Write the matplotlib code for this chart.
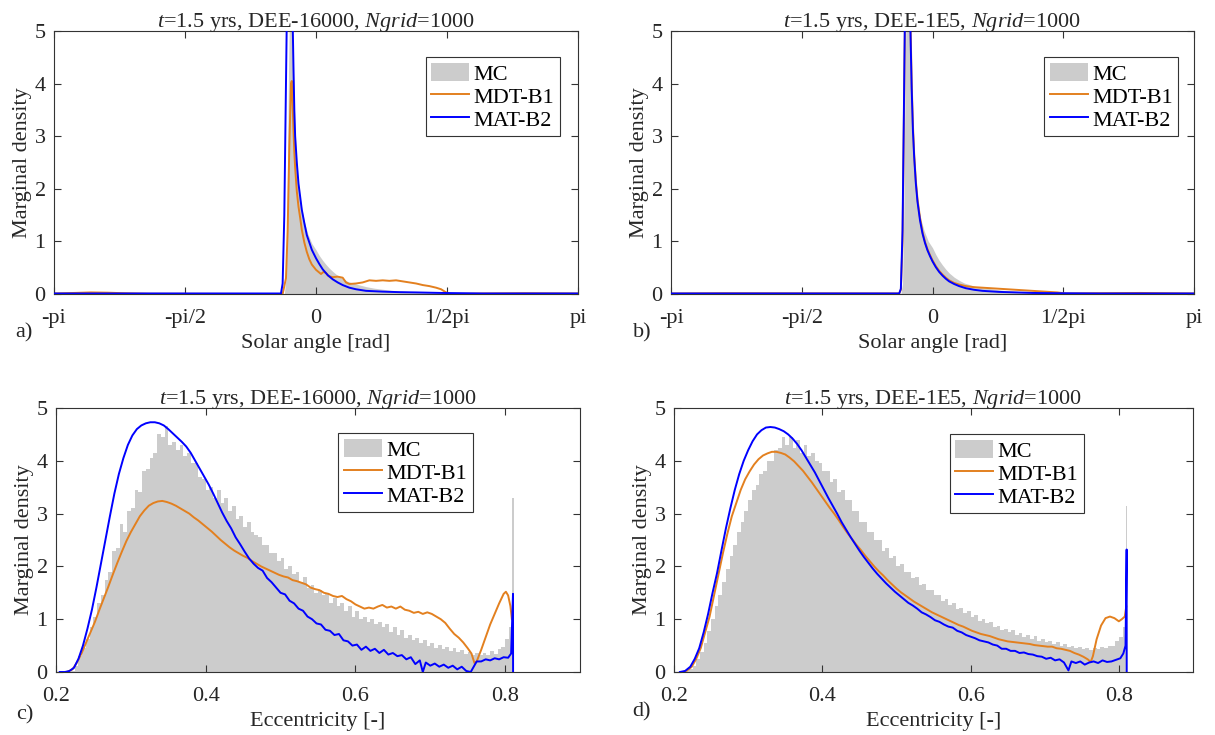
import numpy as np
import matplotlib
matplotlib.use("Agg")
import matplotlib.pyplot as plt
from matplotlib.patches import Patch
from matplotlib.lines import Line2D

plt.rcParams['font.family'] = ['Liberation Serif', 'DejaVu Serif']
plt.rcParams['mathtext.fontset'] = 'custom'
plt.rcParams['mathtext.rm'] = 'Liberation Serif'
plt.rcParams['mathtext.it'] = 'Liberation Serif:italic'

# ---------------- data: solar angle panels ----------------
angle_ticks = [-np.pi, -np.pi / 2, 0, np.pi / 2, np.pi]
angle_ticklabels = ['-pi', '-pi/2', '0', '1/2pi', 'pi']

# panel a (DEE-16000)
a_mc_x = [-0.38, -0.36, -0.345, -0.33, -0.315, -0.30, -0.285, -0.27, -0.255, -0.24, -0.22, -0.20, -0.17,
          -0.14, -0.10, -0.05, 0.0, 0.04, 0.08, 0.12, 0.16, 0.20, 0.26, 0.32, 0.38, 0.44, 0.50, 0.60,
          0.70, 0.80, 0.90, 1.0, 1.1, 1.2, 1.3, 1.4, 1.5, 1.6, 1.7]
a_mc_y = [0, 0.3, 1.8, 4.2, 5.6, 5.8, 5.2, 4.2, 3.3, 2.7, 2.25, 1.95, 1.62, 1.38, 1.15, 0.96, 0.84, 0.73,
          0.64, 0.56, 0.49, 0.43, 0.35, 0.29, 0.24, 0.21, 0.18, 0.14, 0.11, 0.09, 0.07, 0.06, 0.05,
          0.04, 0.035, 0.03, 0.02, 0.01, 0.0]
a_mdt_x = [-np.pi, -2.9, -2.7, -2.5, -2.3, -2.0, -0.5, -0.40, -0.36, -0.34, -0.32, -0.30, -0.29, -0.28,
           -0.27, -0.26, -0.25, -0.23, -0.21, -0.19, -0.17, -0.14, -0.11, -0.08, -0.05, 0.0, 0.03, 0.06,
           0.09, 0.12, 0.15, 0.2, 0.26, 0.32, 0.36, 0.4, 0.48, 0.56, 0.64, 0.72, 0.8, 0.88, 0.96, 1.04,
           1.12, 1.2, 1.28, 1.36, 1.44, 1.5, 1.55, 1.6, 2.0, 2.5, np.pi]
a_mdt_y = [0.01, 0.02, 0.03, 0.025, 0.015, 0.005, 0.0, 0.0, 0.3, 1.2, 2.8, 4.0, 4.05, 3.6, 3.1, 2.7,
           2.4, 1.95, 1.66, 1.45, 1.22, 0.98, 0.8, 0.66, 0.56, 0.46, 0.42, 0.38, 0.42, 0.40, 0.34,
           0.32, 0.33, 0.31, 0.22, 0.19, 0.2, 0.22, 0.26, 0.25, 0.26, 0.25, 0.26, 0.24, 0.22, 0.2,
           0.17, 0.15, 0.12, 0.09, 0.04, 0.0, 0.01, 0.015, 0.01]
a_mat_x = [-np.pi, -0.42, -0.40, -0.38, -0.36, -0.34, -0.32, -0.30, -0.28, -0.27, -0.26, -0.25, -0.23,
           -0.21, -0.19, -0.17, -0.14, -0.11, -0.08, -0.05, 0.0, 0.04, 0.08, 0.14, 0.2, 0.26, 0.32,
           0.4, 0.48, 0.6, 0.8, 1.0, 1.2, 1.5, 2.0, np.pi]
a_mat_y = [0.01, 0.01, 0.2, 1.5, 4.0, 6.5, 8.0, 7.5, 5.2, 4.3, 3.5, 3.0, 2.5, 2.1, 1.85, 1.6, 1.35,
           1.12, 0.98, 0.84, 0.68, 0.57, 0.47, 0.36, 0.28, 0.22, 0.17, 0.12, 0.09, 0.06, 0.045,
           0.035, 0.03, 0.02, 0.01, 0.01]

# panel b (DEE-1E5)
b_mc_x = [-0.38, -0.36, -0.345, -0.33, -0.315, -0.30, -0.285, -0.27, -0.255, -0.24, -0.22, -0.20, -0.17,
          -0.14, -0.10, -0.05, 0.0, 0.04, 0.08, 0.12, 0.16, 0.20, 0.26, 0.32, 0.38, 0.44, 0.50, 0.60,
          0.70, 0.80, 0.90, 1.0, 1.1, 1.2, 1.3, 1.4, 1.5, 1.6, 1.7]
b_mc_y = [0, 0.2, 1.5, 4.0, 5.6, 5.8, 5.3, 4.3, 3.4, 2.8, 2.3, 1.98, 1.65, 1.42, 1.2, 1.0, 0.88, 0.75,
          0.64, 0.55, 0.47, 0.4, 0.32, 0.26, 0.21, 0.18, 0.15, 0.12, 0.1, 0.08, 0.06, 0.05, 0.04,
          0.035, 0.03, 0.025, 0.02, 0.01, 0.0]
b_mdt_x = [-np.pi, -2.5, -0.40, -0.38, -0.36, -0.34, -0.32, -0.30, -0.28, -0.265, -0.25, -0.235, -0.22,
           -0.20, -0.18, -0.15, -0.12, -0.09, -0.06, -0.03, 0.0, 0.04, 0.08, 0.12, 0.16, 0.2, 0.26,
           0.32, 0.4, 0.5, 0.6, 0.7, 0.8, 0.9, 1.0, 1.1, 1.2, 1.3, 1.4, 1.5, 1.6, 2.0, 2.5, np.pi]
b_mdt_y = [0.01, 0.015, 0.01, 0.08, 1.0, 3.8, 6.8, 8.3, 7.2, 5.2, 4.0, 3.2, 2.65, 2.15, 1.8, 1.45,
           1.18, 0.99, 0.85, 0.74, 0.64, 0.53, 0.44, 0.37, 0.31, 0.26, 0.21, 0.18, 0.15, 0.13, 0.12,
           0.11, 0.1, 0.09, 0.08, 0.07, 0.06, 0.05, 0.04, 0.03, 0.01, 0.015, 0.02, 0.01]
b_mat_x = [-np.pi, -0.40, -0.38, -0.36, -0.34, -0.32, -0.30, -0.28, -0.265, -0.25, -0.235, -0.22, -0.20,
           -0.18, -0.15, -0.12, -0.09, -0.06, -0.03, 0.0, 0.04, 0.08, 0.12, 0.16, 0.2, 0.26, 0.32,
           0.4, 0.5, 0.6, 0.8, 1.0, 1.2, 1.5, 2.0, np.pi]
b_mat_y = [0.01, 0.01, 0.1, 1.2, 4.0, 7.0, 8.5, 7.0, 5.0, 3.9, 3.1, 2.6, 2.1, 1.75, 1.4, 1.15, 0.97,
           0.83, 0.72, 0.62, 0.51, 0.42, 0.35, 0.29, 0.24, 0.19, 0.15, 0.11, 0.08, 0.06, 0.04, 0.03,
           0.02, 0.015, 0.01, 0.01]

# ---------------- data: eccentricity panels ----------------
ecc_ticks = [0.2, 0.4, 0.6, 0.8]
ecc_ticklabels = ['0.2', '0.4', '0.6', '0.8']
mc_bin_start = 0.2
mc_bin_width = 0.005

# panel c (DEE-16000), MC histogram heights, bins from 0.200 in steps of 0.005
c_mc = [0, 0, 0, 0, 0.02, 0.12, 0.3, 0.45, 0.62, 0.85,
        1.05, 1.3, 1.45, 1.75, 1.9, 2.3, 2.35, 2.8, 2.65, 3.05,
        3.1, 3.45, 3.4, 3.8, 3.85, 4.05, 4.15, 4.5, 4.45, 4.65,
        4.3, 4.35, 4.2, 4.3, 4.1, 4.15, 3.95, 3.95, 3.7, 3.65,
        3.45, 3.5, 3.3, 3.45, 3.2, 3.3, 3.05, 3.15, 2.9, 2.95,
        2.75, 2.85, 2.65, 2.6, 2.55, 2.4, 2.4, 2.25, 2.25, 2.1,
        2.15, 1.95, 2.0, 1.85, 1.9, 1.7, 1.8, 1.6, 1.65, 1.5,
        1.55, 1.45, 1.5, 1.3, 1.4, 1.25, 1.3, 1.15, 1.25, 1.05,
        1.15, 1.0, 1.05, 0.95, 1.0, 0.9, 0.95, 0.85, 0.9, 0.75,
        0.85, 0.7, 0.8, 0.65, 0.7, 0.6, 0.65, 0.55, 0.6, 0.5,
        0.55, 0.45, 0.52, 0.43, 0.48, 0.4, 0.45, 0.37, 0.42, 0.35,
        0.38, 0.33, 0.36, 0.32, 0.36, 0.33, 0.39, 0.35, 0.44, 0.48,
        0.62, 0.85]
c_mc_spike_x = 0.8105
c_mc_spike_y = 3.3

c_mat_x = [0.205, 0.212, 0.218, 0.224, 0.230, 0.236, 0.242, 0.248, 0.254, 0.260, 0.266, 0.272, 0.278,
           0.284, 0.290, 0.296, 0.302, 0.308, 0.314, 0.320, 0.326, 0.332, 0.338, 0.344, 0.350, 0.356,
           0.362, 0.368, 0.374, 0.380, 0.386, 0.392, 0.398, 0.404, 0.410, 0.416, 0.422, 0.428, 0.434,
           0.440, 0.446, 0.452, 0.458, 0.464, 0.470, 0.476, 0.482, 0.488, 0.494, 0.500, 0.506, 0.512,
           0.518, 0.524, 0.530, 0.536, 0.542, 0.548, 0.554, 0.560, 0.566, 0.572, 0.578, 0.584, 0.590,
           0.596, 0.602, 0.608, 0.614, 0.620, 0.626, 0.632, 0.638, 0.644, 0.650, 0.656, 0.662, 0.668,
           0.674, 0.680, 0.686, 0.690, 0.694, 0.700, 0.706, 0.712, 0.718, 0.724, 0.730, 0.736, 0.742,
           0.748, 0.754, 0.758, 0.762, 0.768, 0.774, 0.780, 0.786, 0.792, 0.798, 0.804, 0.808, 0.8105,
           0.8106]
c_mat_y = [0.0, 0.0, 0.02, 0.08, 0.25, 0.5, 0.82, 1.18, 1.6, 2.05, 2.5, 2.95, 3.38, 3.75, 4.05, 4.3,
           4.48, 4.6, 4.67, 4.71, 4.73, 4.73, 4.71, 4.67, 4.6, 4.52, 4.44, 4.36, 4.27, 4.15, 4.0, 3.85,
           3.7, 3.55, 3.38, 3.2, 3.02, 2.86, 2.72, 2.55, 2.42, 2.28, 2.15, 2.05, 1.97, 1.92, 1.78, 1.7,
           1.6, 1.5, 1.47, 1.35, 1.3, 1.2, 1.16, 1.05, 1.0, 0.92, 0.9, 0.8, 0.78, 0.7, 0.72, 0.6, 0.58,
           0.5, 0.52, 0.42, 0.48, 0.4, 0.44, 0.36, 0.42, 0.33, 0.36, 0.3, 0.32, 0.24, 0.28, 0.15, 0.22,
           0.0, 0.18, 0.12, 0.16, 0.1, 0.14, 0.08, 0.12, 0.05, 0.1, 0.02, 0.0, 0.1, 0.2, 0.2, 0.24,
           0.22, 0.26, 0.24, 0.28, 0.27, 0.35, 1.48, 0.0]

c_mdt_x = [0.215, 0.222, 0.228, 0.234, 0.240, 0.246, 0.252, 0.258, 0.264, 0.270, 0.276, 0.282, 0.288,
           0.294, 0.300, 0.306, 0.312, 0.318, 0.324, 0.330, 0.336, 0.342, 0.348, 0.354, 0.360, 0.366,
           0.372, 0.378, 0.384, 0.390, 0.396, 0.402, 0.408, 0.414, 0.420, 0.426, 0.432, 0.438, 0.444,
           0.450, 0.456, 0.462, 0.468, 0.474, 0.480, 0.486, 0.492, 0.498, 0.504, 0.510, 0.516, 0.522,
           0.528, 0.534, 0.540, 0.546, 0.552, 0.558, 0.564, 0.570, 0.576, 0.582, 0.588, 0.594, 0.600,
           0.606, 0.612, 0.618, 0.624, 0.630, 0.636, 0.642, 0.648, 0.654, 0.660, 0.666, 0.672, 0.678,
           0.684, 0.690, 0.696, 0.702, 0.708, 0.714, 0.720, 0.726, 0.732, 0.738, 0.744, 0.750, 0.755,
           0.759, 0.762, 0.768, 0.774, 0.780, 0.786, 0.792, 0.798, 0.801, 0.804, 0.807, 0.809]
c_mdt_y = [0.0, 0.05, 0.18, 0.35, 0.55, 0.75, 0.95, 1.18, 1.4, 1.62, 1.85, 2.07, 2.28, 2.48, 2.65, 2.8,
           2.95, 3.06, 3.15, 3.2, 3.23, 3.24, 3.22, 3.19, 3.15, 3.1, 3.05, 3.0, 2.93, 2.87, 2.8, 2.73,
           2.66, 2.58, 2.5, 2.43, 2.36, 2.3, 2.25, 2.2, 2.16, 2.1, 2.05, 2.0, 1.96, 1.92, 1.88, 1.84,
           1.81, 1.79, 1.74, 1.72, 1.69, 1.66, 1.6, 1.57, 1.55, 1.5, 1.48, 1.44, 1.42, 1.44, 1.38,
           1.34, 1.28, 1.24, 1.2, 1.22, 1.2, 1.24, 1.27, 1.22, 1.24, 1.2, 1.24, 1.18, 1.16, 1.12, 1.14,
           1.1, 1.13, 1.1, 1.05, 1.0, 0.93, 0.82, 0.72, 0.65, 0.56, 0.45, 0.35, 0.17, 0.2, 0.42, 0.66,
           0.9, 1.1, 1.3, 1.48, 1.52, 1.45, 1.25, 1.0]

# panel d (DEE-1E5)
d_mc = [0, 0, 0, 0.01, 0.05, 0.12, 0.25, 0.38, 0.55, 0.78,
        1.0, 1.25, 1.45, 1.7, 1.95, 2.2, 2.4, 2.65, 2.85, 3.05,
        3.25, 3.45, 3.55, 3.75, 3.8, 4.0, 4.0, 4.2, 4.25, 4.45,
        4.3, 4.45, 4.25, 4.4, 4.15, 4.3, 4.1, 4.15, 4.0, 3.95,
        3.8, 3.8, 3.6, 3.65, 3.4, 3.45, 3.25, 3.25, 3.05, 3.05,
        2.85, 2.85, 2.65, 2.65, 2.5, 2.5, 2.3, 2.35, 2.15, 2.2,
        2.0, 2.05, 1.9, 1.9, 1.78, 1.8, 1.65, 1.66, 1.55, 1.55,
        1.45, 1.46, 1.35, 1.38, 1.27, 1.3, 1.19, 1.21, 1.12, 1.15,
        1.05, 1.08, 0.97, 1.0, 0.92, 0.95, 0.85, 0.88, 0.8, 0.82,
        0.76, 0.79, 0.71, 0.74, 0.67, 0.7, 0.63, 0.68, 0.59, 0.62,
        0.56, 0.58, 0.53, 0.56, 0.5, 0.53, 0.47, 0.5, 0.45, 0.48,
        0.43, 0.46, 0.42, 0.46, 0.43, 0.47, 0.45, 0.5, 0.5, 0.58,
        0.66, 0.85]
d_mc_spike_x = 0.8105
d_mc_spike_y = 3.14

d_mat_x = [0.208, 0.215, 0.222, 0.228, 0.234, 0.240, 0.246, 0.252, 0.258, 0.264, 0.270, 0.276, 0.282,
           0.288, 0.294, 0.300, 0.306, 0.312, 0.318, 0.324, 0.330, 0.336, 0.342, 0.348, 0.354, 0.360,
           0.366, 0.372, 0.378, 0.384, 0.390, 0.396, 0.402, 0.408, 0.414, 0.420, 0.426, 0.432, 0.438,
           0.444, 0.450, 0.456, 0.462, 0.468, 0.474, 0.480, 0.486, 0.492, 0.498, 0.504, 0.510, 0.516,
           0.522, 0.528, 0.534, 0.540, 0.546, 0.552, 0.558, 0.564, 0.570, 0.576, 0.582, 0.588, 0.594,
           0.600, 0.606, 0.612, 0.618, 0.624, 0.630, 0.636, 0.642, 0.648, 0.654, 0.660, 0.666, 0.672,
           0.678, 0.684, 0.690, 0.696, 0.702, 0.708, 0.714, 0.720, 0.726, 0.732, 0.736, 0.742, 0.748,
           0.754, 0.760, 0.766, 0.772, 0.778, 0.784, 0.790, 0.796, 0.802, 0.806, 0.809, 0.8105, 0.8106]
d_mat_y = [0.0, 0.02, 0.1, 0.25, 0.45, 0.75, 1.1, 1.5, 1.87, 2.3, 2.72, 3.1, 3.45, 3.75, 4.0, 4.2,
           4.37, 4.5, 4.58, 4.63, 4.64, 4.63, 4.6, 4.56, 4.5, 4.42, 4.32, 4.2, 4.06, 3.92, 3.78, 3.62,
           3.46, 3.3, 3.15, 3.0, 2.84, 2.7, 2.56, 2.43, 2.3, 2.18, 2.07, 1.96, 1.86, 1.77, 1.68, 1.6,
           1.52, 1.45, 1.38, 1.31, 1.26, 1.2, 1.13, 1.09, 1.04, 0.98, 0.95, 0.9, 0.86, 0.84, 0.78,
           0.75, 0.7, 0.67, 0.64, 0.6, 0.58, 0.56, 0.52, 0.5, 0.44, 0.44, 0.4, 0.4, 0.36, 0.37, 0.34,
           0.33, 0.3, 0.29, 0.25, 0.27, 0.22, 0.24, 0.18, 0.03, 0.2, 0.17, 0.2, 0.14, 0.18, 0.2, 0.17,
           0.22, 0.19, 0.2, 0.23, 0.26, 0.35, 0.5, 2.32, 0.0]

d_mdt_x = [0.212, 0.218, 0.224, 0.230, 0.236, 0.242, 0.248, 0.254, 0.260, 0.266, 0.272, 0.278, 0.284,
           0.290, 0.296, 0.302, 0.308, 0.314, 0.320, 0.326, 0.332, 0.338, 0.344, 0.350, 0.356, 0.362,
           0.368, 0.374, 0.380, 0.386, 0.392, 0.398, 0.404, 0.410, 0.416, 0.422, 0.428, 0.434, 0.440,
           0.446, 0.452, 0.458, 0.464, 0.470, 0.476, 0.482, 0.488, 0.494, 0.500, 0.506, 0.512, 0.518,
           0.524, 0.530, 0.536, 0.542, 0.548, 0.554, 0.560, 0.566, 0.572, 0.578, 0.584, 0.590, 0.596,
           0.602, 0.608, 0.614, 0.620, 0.626, 0.632, 0.638, 0.644, 0.650, 0.656, 0.662, 0.668, 0.674,
           0.680, 0.686, 0.692, 0.698, 0.704, 0.710, 0.716, 0.722, 0.728, 0.734, 0.740, 0.746, 0.752,
           0.758, 0.762, 0.765, 0.770, 0.776, 0.782, 0.788, 0.794, 0.800, 0.804, 0.808, 0.810]
d_mdt_y = [0.0, 0.03, 0.1, 0.25, 0.45, 0.75, 1.05, 1.45, 1.85, 2.25, 2.62, 2.95, 3.2, 3.45, 3.65, 3.8,
           3.93, 4.03, 4.1, 4.14, 4.17, 4.17, 4.15, 4.12, 4.06, 3.99, 3.9, 3.81, 3.7, 3.59, 3.47, 3.35,
           3.23, 3.11, 3.0, 2.88, 2.75, 2.63, 2.52, 2.41, 2.31, 2.2, 2.1, 2.0, 1.91, 1.83, 1.74, 1.66,
           1.58, 1.51, 1.45, 1.39, 1.33, 1.28, 1.23, 1.18, 1.13, 1.09, 1.05, 1.01, 0.97, 0.93, 0.89,
           0.86, 0.82, 0.78, 0.75, 0.72, 0.7, 0.68, 0.65, 0.62, 0.6, 0.58, 0.57, 0.56, 0.55, 0.54, 0.53,
           0.51, 0.5, 0.49, 0.48, 0.48, 0.45, 0.44, 0.42, 0.4, 0.36, 0.33, 0.29, 0.24, 0.19, 0.3, 0.62,
           0.88, 1.02, 1.05, 1.02, 0.96, 1.0, 1.05, 1.24]

# ---------------- styling ----------------
C_MC = '#cccccc'
C_MDT = '#e3801f'
C_MAT = '#0000ff'
C_AX = '#333333'
LW = 1.4

W, H = 1215, 735
fig = plt.figure(figsize=(W / 100, H / 100), dpi=100)


def rect(l, r, t, b):
    return [l / W, 1 - b / H, (r - l) / W, (b - t) / H]


def style(ax, xlim, ticks, ticklabels, xlabel, title, anchor):
    ax.set_xlim(*xlim)
    ax.set_ylim(0, 5)
    ax.set_xticks(ticks)
    ax.set_xticklabels(ticklabels)
    ax.set_yticks(range(6))
    ax.tick_params(direction='in', top=True, right=True, length=5, width=0.8,
                   color=C_AX, labelcolor='#262626', labelsize=16, pad=6)
    ax.tick_params(axis='x', pad=11)
    for s in ax.spines.values():
        s.set_color(C_AX)
        s.set_linewidth(0.8)
    ax.set_xlabel(xlabel, fontsize=16, labelpad=4, color='#262626')
    ax.set_ylabel('Marginal density', fontsize=16, labelpad=2, color='#262626')
    ax.set_title(title, fontsize=16, pad=3, color='#262626')
    handles = [Patch(facecolor=C_MC, edgecolor='none'),
               Line2D([], [], color=C_MDT, lw=LW),
               Line2D([], [], color=C_MAT, lw=LW)]
    leg = ax.legend(handles, ['MC', 'MDT-B1', 'MAT-B2'], loc='upper right',
                    bbox_to_anchor=anchor, fontsize=16, fancybox=False, framealpha=1,
                    edgecolor=C_AX, handlelength=1.7, handleheight=0.9, handletextpad=0.2,
                    labelspacing=0.05, borderpad=0.25, borderaxespad=0)
    leg.get_frame().set_linewidth(0.8)


title_16 = r'$\mathit{t}$=1.5 yrs, DEE-16000, $\mathit{Ngrid}$=1000'
title_1e5 = r'$\mathit{t}$=1.5 yrs, DEE-1E5, $\mathit{Ngrid}$=1000'

# panel a
ax = fig.add_axes(rect(54, 578, 31, 294))
ax.fill_between(a_mc_x, 0, a_mc_y, color=C_MC, lw=0, zorder=1)
ax.plot(a_mdt_x, a_mdt_y, color=C_MDT, lw=LW, zorder=2)
ax.plot(a_mat_x, a_mat_y, color=C_MAT, lw=LW, zorder=3)
style(ax, (-np.pi, np.pi), angle_ticks, angle_ticklabels, 'Solar angle [rad]', title_16, (0.965, 0.90))

# panel b
ax = fig.add_axes(rect(671, 1194, 31, 294))
ax.fill_between(b_mc_x, 0, b_mc_y, color=C_MC, lw=0, zorder=1)
ax.plot(b_mdt_x, b_mdt_y, color=C_MDT, lw=LW, zorder=2)
ax.plot(b_mat_x, b_mat_y, color=C_MAT, lw=LW, zorder=3)
style(ax, (-np.pi, np.pi), angle_ticks, angle_ticklabels, 'Solar angle [rad]', title_1e5, (0.97, 0.90))

# panel c
ax = fig.add_axes(rect(56, 580, 408, 672))
edges = np.round(mc_bin_start + mc_bin_width * np.arange(len(c_mc) + 1), 4)
ax.stairs(c_mc, edges, fill=True, color=C_MC, lw=0, zorder=1)
ax.bar([c_mc_spike_x], [c_mc_spike_y], width=0.0015, color=C_MC, lw=0, zorder=1)
ax.plot(c_mdt_x, c_mdt_y, color=C_MDT, lw=LW, zorder=2)
ax.plot(c_mat_x, c_mat_y, color=C_MAT, lw=LW, zorder=3)
style(ax, (0.2, 0.9), ecc_ticks, ecc_ticklabels, 'Eccentricity [-]', title_16, (0.795, 0.905))

# panel d
ax = fig.add_axes(rect(674, 1193, 408, 672))
edges = np.round(mc_bin_start + mc_bin_width * np.arange(len(d_mc) + 1), 4)
ax.stairs(d_mc, edges, fill=True, color=C_MC, lw=0, zorder=1)
ax.bar([d_mc_spike_x], [d_mc_spike_y], width=0.0015, color=C_MC, lw=0, zorder=1)
ax.plot(d_mdt_x, d_mdt_y, color=C_MDT, lw=LW, zorder=2)
ax.plot(d_mat_x, d_mat_y, color=C_MAT, lw=LW, zorder=3)
style(ax, (0.2, 0.9), ecc_ticks, ecc_ticklabels, 'Eccentricity [-]', title_1e5, (0.79, 0.90))

# panel tags
for tag, px, py in [('a)', 24, 333), ('b)', 642, 333), ('c)', 25, 715), ('d)', 642, 712)]:
    fig.text(px / W, 1 - py / H, tag, fontsize=16, ha='center', va='center', color='#262626')

fig.savefig('out.png', dpi=100)
